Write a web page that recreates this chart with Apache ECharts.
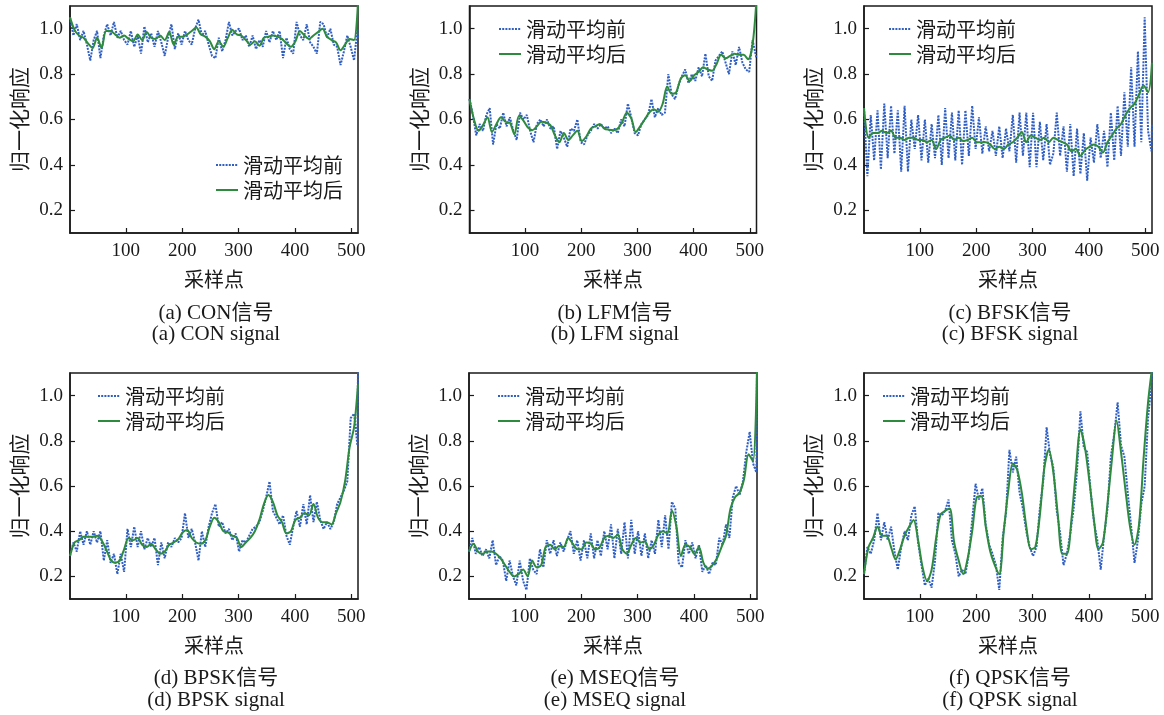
<!DOCTYPE html>
<html>
<head>
<meta charset="utf-8">
<script src="https://cdn.jsdelivr.net/npm/echarts@6/dist/echarts.min.js"></script>
<style>
html,body{margin:0;padding:0;background:#fff;}
#chart{width:1164px;height:715px;}
</style>
</head>
<body>
<div id="chart"></div>
<script>
// ---------- data ----------
const xTicks = [100, 200, 300, 400, 500];
const yTicks = [0.2, 0.4, 0.6, 0.8, 1.0];
const seriesNames = ['滑动平均前', '滑动平均后'];
const xAxisName = '采样点';
const yAxisName = '归一化响应';
const captionsCN = ['(a) CON信号', '(b) LFM信号', '(c) BFSK信号', '(d) BPSK信号', '(e) MSEQ信号', '(f) QPSK信号'];
const captionsEN = ['(a) CON signal', '(b) LFM signal', '(c) BFSK signal', '(d) BPSK signal', '(e) MSEQ signal', '(f) QPSK signal'];

// sample positions: before-smoothing every 6 samples, after-smoothing every 8 samples, plus last sample 512
const beforeX = [];
for (let k = 0; k < 86; k++) beforeX.push(1 + 6 * k);
beforeX.push(512);
const afterX = [];
for (let k = 0; k < 64; k++) afterX.push(1 + 8 * k);
afterX.push(512);

const conBefore = [1.05,0.97,1.02,0.95,0.99,0.93,0.86,0.95,0.99,0.87,
 0.97,1.02,0.97,1.03,0.96,0.99,0.95,0.93,0.99,0.92,
 0.97,0.89,1.01,0.94,0.98,0.92,0.99,0.94,0.88,0.96,
 1.02,0.91,0.98,0.93,0.99,0.95,0.93,1.00,1.04,0.97,
 0.99,0.93,0.88,0.87,0.96,0.90,0.95,1.03,0.97,0.99,
 1.00,0.95,0.97,0.92,0.97,0.91,0.95,0.92,0.99,0.94,
 0.99,0.95,0.99,0.87,0.96,0.91,0.89,1.03,0.97,0.95,
 1.02,0.94,0.92,0.89,1.03,1.02,0.96,1.00,0.93,0.92,
 0.84,0.90,0.97,0.92,0.86,1.00,
 0.96];
const conAfter = [1.05,0.995,0.97,0.96,0.935,0.915,0.96,0.915,0.99,0.99,
 0.975,0.96,0.97,0.955,0.945,0.975,0.95,0.985,0.96,0.955,
 0.97,0.95,0.985,0.93,0.965,0.965,0.975,0.99,1.005,0.975,
 0.965,0.945,0.91,0.945,0.92,0.96,0.995,0.975,0.97,0.95,
 0.93,0.945,0.925,0.96,0.965,0.97,0.965,0.955,0.935,0.92,
 0.945,0.99,0.97,0.955,0.97,0.985,1.0,0.965,0.95,0.94,
 0.905,0.93,0.955,0.95,
 1.12];

const lfmBefore = [0.69,0.62,0.53,0.58,0.55,0.62,0.65,0.49,0.58,0.56,
 0.63,0.57,0.61,0.55,0.51,0.63,0.60,0.62,0.55,0.50,
 0.58,0.60,0.57,0.60,0.56,0.57,0.47,0.55,0.52,0.48,
 0.56,0.55,0.60,0.50,0.49,0.53,0.55,0.58,0.56,0.58,
 0.56,0.57,0.54,0.56,0.54,0.60,0.57,0.67,0.61,0.54,
 0.53,0.58,0.60,0.62,0.69,0.61,0.65,0.62,0.63,0.80,
 0.71,0.69,0.75,0.79,0.82,0.76,0.80,0.77,0.83,0.79,
 0.89,0.79,0.77,0.86,0.88,0.90,0.85,0.80,0.90,0.84,
 0.92,0.85,0.82,0.81,0.95,0.88,
 0.87];
const lfmAfter = [0.69,0.60,0.55,0.575,0.61,0.545,0.58,0.61,0.59,0.585,
 0.535,0.615,0.595,0.565,0.553,0.57,0.59,0.587,0.575,0.53,
 0.50,0.54,0.51,0.53,0.55,0.505,0.525,0.56,0.57,0.58,
 0.56,0.555,0.553,0.56,0.59,0.63,0.605,0.545,0.57,0.60,
 0.63,0.645,0.634,0.67,0.745,0.713,0.72,0.78,0.795,0.77,
 0.795,0.81,0.83,0.82,0.815,0.845,0.885,0.87,0.88,0.89,
 0.885,0.885,0.865,0.93,
 1.13];

const bfskBefore = [0.65,0.35,0.62,0.42,0.64,0.38,0.67,0.43,0.66,0.45,
 0.64,0.37,0.66,0.37,0.60,0.47,0.62,0.42,0.60,0.41,
 0.58,0.43,0.62,0.40,0.65,0.43,0.63,0.42,0.64,0.40,
 0.64,0.44,0.66,0.47,0.61,0.45,0.57,0.46,0.55,0.44,
 0.57,0.43,0.56,0.46,0.62,0.41,0.63,0.44,0.63,0.39,
 0.63,0.39,0.59,0.42,0.58,0.40,0.45,0.63,0.44,0.57,
 0.37,0.58,0.35,0.56,0.36,0.54,0.33,0.52,0.41,0.58,
 0.43,0.55,0.39,0.63,0.42,0.66,0.44,0.72,0.48,0.83,
 0.48,0.90,0.50,1.05,0.55,0.46,
 0.58];
const bfskAfter = [0.65,0.52,0.54,0.54,0.55,0.54,0.55,0.52,0.52,0.51,
 0.52,0.52,0.51,0.51,0.50,0.51,0.47,0.51,0.52,0.53,
 0.51,0.52,0.505,0.51,0.52,0.50,0.50,0.50,0.49,0.47,
 0.48,0.47,0.49,0.50,0.52,0.545,0.50,0.53,0.52,0.51,
 0.52,0.50,0.52,0.51,0.50,0.49,0.46,0.47,0.44,0.465,
 0.48,0.49,0.48,0.455,0.50,0.53,0.56,0.58,0.62,0.65,
 0.67,0.71,0.75,0.72,
 0.85];

const bpskBefore = [0.29,0.35,0.31,0.40,0.34,0.40,0.34,0.40,0.35,0.40,
 0.27,0.36,0.26,0.30,0.21,0.30,0.22,0.41,0.33,0.42,
 0.33,0.40,0.32,0.37,0.33,0.37,0.25,0.35,0.28,0.35,
 0.33,0.37,0.35,0.37,0.48,0.37,0.41,0.35,0.27,0.40,
 0.33,0.42,0.48,0.52,0.42,0.44,0.39,0.41,0.36,0.39,
 0.31,0.36,0.35,0.38,0.41,0.42,0.44,0.49,0.55,0.62,
 0.49,0.46,0.43,0.47,0.38,0.34,0.42,0.49,0.42,0.52,
 0.43,0.56,0.44,0.53,0.45,0.41,0.44,0.41,0.44,0.52,
 0.55,0.58,0.62,0.90,0.92,0.78,
 1.12];
const bpskAfter = [0.29,0.35,0.36,0.375,0.375,0.375,0.38,0.36,0.32,0.275,
 0.26,0.27,0.32,0.37,0.36,0.37,0.34,0.33,0.345,0.32,
 0.30,0.31,0.34,0.35,0.365,0.395,0.405,0.37,0.35,0.345,
 0.36,0.42,0.46,0.44,0.40,0.395,0.38,0.37,0.33,0.35,
 0.37,0.40,0.45,0.52,0.56,0.53,0.47,0.44,0.39,0.40,
 0.45,0.46,0.48,0.47,0.52,0.46,0.44,0.44,0.43,0.48,
 0.53,0.62,0.77,0.86,
 1.05];

const mseqBefore = [0.31,0.37,0.30,0.33,0.29,0.32,0.28,0.36,0.25,0.29,
 0.27,0.18,0.27,0.20,0.16,0.27,0.18,0.14,0.28,0.23,
 0.21,0.32,0.24,0.36,0.30,0.36,0.29,0.35,0.31,0.36,
 0.40,0.30,0.36,0.27,0.36,0.28,0.39,0.28,0.36,0.29,
 0.40,0.32,0.43,0.28,0.41,0.30,0.44,0.28,0.45,0.30,
 0.40,0.29,0.39,0.28,0.36,0.30,0.45,0.33,0.47,0.32,
 0.53,0.50,0.26,0.24,0.36,0.30,0.35,0.28,0.34,0.22,
 0.25,0.21,0.26,0.25,0.37,0.34,0.43,0.37,0.55,0.60,
 0.56,0.62,0.75,0.84,0.70,0.66,
 1.12];
const mseqAfter = [0.31,0.345,0.31,0.30,0.31,0.31,0.30,0.28,0.25,0.22,
 0.20,0.21,0.23,0.20,0.27,0.24,0.25,0.33,0.34,0.32,
 0.335,0.33,0.37,0.345,0.32,0.32,0.35,0.345,0.32,0.33,
 0.37,0.38,0.37,0.385,0.32,0.30,0.34,0.37,0.35,0.355,
 0.32,0.34,0.385,0.40,0.39,0.49,0.42,0.29,0.34,0.33,
 0.30,0.33,0.26,0.235,0.25,0.28,0.33,0.38,0.50,0.55,
 0.57,0.63,0.74,0.71,
 1.12];

const qpskBefore = [0.21,0.33,0.30,0.36,0.48,0.36,0.44,0.36,0.42,0.31,
 0.23,0.33,0.40,0.36,0.47,0.51,0.35,0.25,0.16,0.19,
 0.15,0.27,0.48,0.47,0.49,0.54,0.36,0.30,0.20,0.23,
 0.21,0.30,0.45,0.61,0.54,0.59,0.43,0.34,0.30,0.25,
 0.14,0.37,0.48,0.76,0.66,0.73,0.57,0.50,0.40,0.33,
 0.29,0.33,0.50,0.62,0.86,0.74,0.68,0.49,0.39,0.25,
 0.30,0.39,0.50,0.67,0.93,0.77,0.75,0.58,0.44,0.36,
 0.23,0.38,0.50,0.73,0.83,0.97,0.78,0.73,0.57,0.42,
 0.26,0.36,0.52,0.60,0.90,1.05,
 1.12];
const qpskAfter = [0.21,0.33,0.37,0.42,0.38,0.38,0.33,0.275,0.32,0.38,
 0.42,0.45,0.36,0.24,0.18,0.23,0.37,0.475,0.49,0.50,
 0.35,0.27,0.21,0.28,0.40,0.55,0.555,0.42,0.31,0.25,
 0.21,0.40,0.58,0.70,0.67,0.57,0.42,0.32,0.33,0.47,
 0.68,0.76,0.66,0.47,0.30,0.30,0.45,0.67,0.85,0.77,
 0.62,0.45,0.32,0.35,0.52,0.72,0.89,0.75,0.58,0.42,
 0.34,0.43,0.72,0.97,
 1.12];

// ---------- layout ----------
const befores = [conBefore, lfmBefore, bfskBefore, bpskBefore, mseqBefore, qpskBefore];
const afters = [conAfter, lfmAfter, bfskAfter, bpskAfter, mseqAfter, qpskAfter];
const grids = [
  {left: 70, top: 6, width: 288, height: 227},
  {left: 469.5, top: 6, width: 287, height: 227},
  {left: 864, top: 6, width: 288, height: 227},
  {left: 70, top: 373, width: 288, height: 226},
  {left: 469, top: 373, width: 288, height: 226},
  {left: 864, top: 373, width: 288, height: 226}
];
const legendPos = [
  {left: 215, top: 154}, {left: 498, top: 18}, {left: 888, top: 18},
  {left: 97, top: 385}, {left: 497, top: 385}, {left: 882, top: 385}
];
const capY = [[313, 334], [313, 334], [313, 334], [678, 700], [678, 700], [678, 700]];

const serif = '"Liberation Serif", "Times New Roman", serif';
const cjk = '"Noto Sans CJK SC", sans-serif';
const mixed = '"Liberation Serif", "Noto Sans CJK SC", serif';
const ink = '#1a1a1a';
const blue = '#2f5fc4';
const green = '#2e8b3e';

const option = {
  backgroundColor: '#fff',
  animation: false,
  grid: [], xAxis: [], yAxis: [], series: [], legend: [], graphic: []
};

grids.forEach((g, i) => {
  option.grid.push(Object.assign({show: true, borderColor: ink, borderWidth: 1.5, backgroundColor: 'transparent'}, g));
  option.xAxis.push({
    gridIndex: i, type: 'value', min: 1, max: 512,
    axisLine: {show: true, onZero: false, lineStyle: {color: ink, width: 1.5}},
    axisTick: {show: true, inside: true, length: 5, customValues: xTicks, lineStyle: {color: ink, width: 1.2}},
    axisLabel: {customValues: xTicks, fontFamily: serif, fontSize: 19, color: ink, margin: 9},
    splitLine: {show: false},
    name: xAxisName, nameLocation: 'middle', nameGap: 36,
    nameTextStyle: {fontFamily: cjk, fontSize: 20, color: ink}
  });
  option.yAxis.push({
    gridIndex: i, type: 'value', min: 0.1, max: 1.1,
    axisLine: {show: true, onZero: false, lineStyle: {color: ink, width: 1.5}},
    axisTick: {show: true, inside: true, length: 5, customValues: yTicks, lineStyle: {color: ink, width: 1.2}},
    axisLabel: {customValues: yTicks, formatter: v => v.toFixed(1), fontFamily: serif, fontSize: 19, color: ink, margin: 7},
    splitLine: {show: false},
    name: yAxisName, nameLocation: 'middle', nameGap: 40,
    nameTextStyle: {fontFamily: cjk, fontSize: 21, color: ink}
  });
  option.series.push({
    name: seriesNames[0], type: 'line', xAxisIndex: i, yAxisIndex: i,
    data: beforeX.map((x, j) => [x, befores[i][j]]),
    symbol: 'none', showSymbol: false, z: 2,
    lineStyle: {color: blue, width: 2, type: [2, 1.2]},
    itemStyle: {color: blue}
  });
  option.series.push({
    name: seriesNames[1], type: 'line', xAxisIndex: i, yAxisIndex: i,
    data: afterX.map((x, j) => [x, afters[i][j]]),
    symbol: 'none', showSymbol: false, z: 3, smooth: 0.3,
    lineStyle: {color: green, width: 2},
    itemStyle: {color: green}
  });
  option.legend.push(Object.assign({
    orient: 'vertical', padding: 0, itemGap: 3, itemWidth: 22, itemHeight: 12,
    data: seriesNames,
    itemStyle: {opacity: 0},
    textStyle: {fontFamily: cjk, fontSize: 20, color: ink, lineHeight: 22},
    selectedMode: false
  }, legendPos[i]));
  const cx = g.left + g.width / 2;
  option.graphic.push({
    type: 'text', x: cx + 2, y: capY[i][0],
    style: {text: captionsCN[i], font: '21px ' + mixed, fill: ink, textAlign: 'center', textVerticalAlign: 'middle'}
  });
  option.graphic.push({
    type: 'text', x: cx + 2, y: capY[i][1],
    style: {text: captionsEN[i], font: '21px ' + serif, fill: ink, textAlign: 'center', textVerticalAlign: 'middle'}
  });
});

const chart = echarts.init(document.getElementById('chart'), null, {renderer: 'canvas'});
chart.setOption(option);
</script>
</body>
</html>
